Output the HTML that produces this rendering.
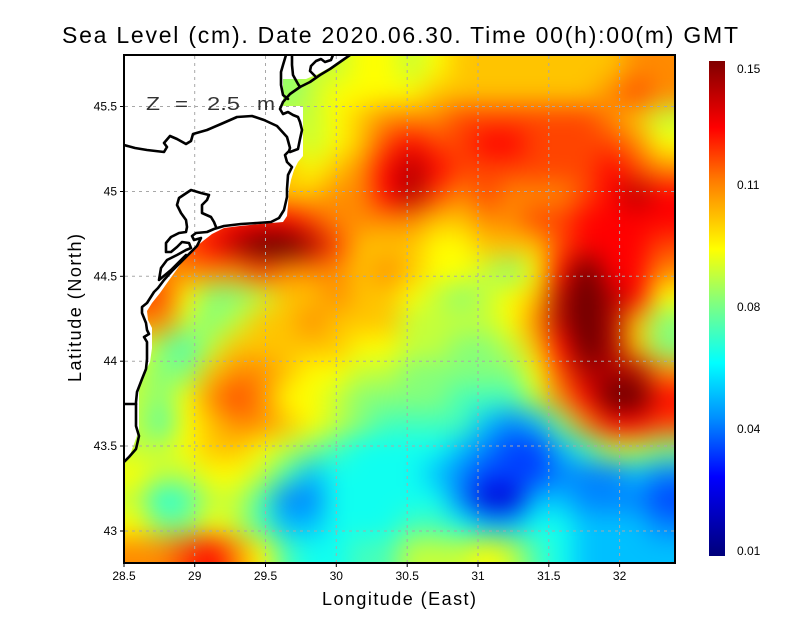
<!DOCTYPE html>
<html><head><meta charset="utf-8"><style>
html,body{margin:0;padding:0;background:#fff}
#wrap{position:relative;width:800px;height:618px;overflow:hidden;background:#fff}
#fw{position:absolute;left:124px;top:55px;width:551px;height:508px;overflow:hidden}
#fs{position:absolute;left:-124px;top:-55px;filter:blur(13px)}
#ov{position:absolute;left:0;top:0}
svg{display:block}
.a{fill:#00007f}.b{fill:#0000d8}.c{fill:#0040ff}.d{fill:#0084ff}.e{fill:#00c0ff}.f{fill:#10fff0}.g{fill:#45ffba}.h{fill:#85ff7a}.i{fill:#c4ff3a}.j{fill:#ffff00}.k{fill:#ffc400}.l{fill:#ff8a00}.m{fill:#ff4400}.n{fill:#ff0000}.o{fill:#b00000}.p{fill:#600000}
text{font-family:"Liberation Sans",Arial,sans-serif;fill:#000}
</style></head><body>
<div id="wrap">
<div id="fw">
<svg id="fs" xmlns="http://www.w3.org/2000/svg" width="800" height="618" viewBox="0 0 800 618">
<g transform="translate(0,15) scale(1,1.52)"><rect x="84" width="66" height="27" class="i"/><rect x="149" width="26" height="27" class="i"/><rect x="174" width="26" height="27" class="i"/><rect x="199" width="26" height="27" class="i"/><rect x="224" width="26" height="27" class="i"/><rect x="249" width="26" height="27" class="i"/><rect x="274" width="26" height="27" class="h"/><rect x="299" width="26" height="27" class="i"/><rect x="324" width="26" height="27" class="i"/><rect x="349" width="26" height="27" class="j"/><rect x="374" width="26" height="27" class="j"/><rect x="399" width="26" height="27" class="i"/><rect x="424" width="26" height="27" class="j"/><rect x="449" width="26" height="27" class="k"/><rect x="474" width="26" height="27" class="k"/><rect x="499" width="26" height="27" class="k"/><rect x="524" width="26" height="27" class="k"/><rect x="549" width="26" height="27" class="k"/><rect x="574" width="26" height="27" class="k"/><rect x="599" width="26" height="27" class="k"/><rect x="624" width="26" height="27" class="l"/><rect x="649" width="70" height="27" class="l"/></g>
<g transform="translate(0,55)"><rect x="84" width="66" height="27" class="i"/><rect x="149" width="26" height="27" class="i"/><rect x="174" width="26" height="27" class="i"/><rect x="199" width="26" height="27" class="i"/><rect x="224" width="26" height="27" class="i"/><rect x="249" width="26" height="27" class="i"/><rect x="274" width="26" height="27" class="h"/><rect x="299" width="26" height="27" class="i"/><rect x="324" width="26" height="27" class="i"/><rect x="349" width="26" height="27" class="j"/><rect x="374" width="26" height="27" class="j"/><rect x="399" width="26" height="27" class="i"/><rect x="424" width="26" height="27" class="j"/><rect x="449" width="26" height="27" class="k"/><rect x="474" width="26" height="27" class="k"/><rect x="499" width="26" height="27" class="k"/><rect x="524" width="26" height="27" class="k"/><rect x="549" width="26" height="27" class="k"/><rect x="574" width="26" height="27" class="k"/><rect x="599" width="26" height="27" class="k"/><rect x="624" width="26" height="27" class="l"/><rect x="649" width="70" height="27" class="l"/></g>
<g transform="translate(0,80.4)"><rect x="84" width="66" height="27" class="i"/><rect x="149" width="26" height="27" class="i"/><rect x="174" width="26" height="27" class="i"/><rect x="199" width="26" height="27" class="i"/><rect x="224" width="26" height="27" class="i"/><rect x="249" width="26" height="27" class="i"/><rect x="274" width="26" height="27" class="h"/><rect x="299" width="26" height="27" class="i"/><rect x="324" width="26" height="27" class="j"/><rect x="349" width="26" height="27" class="j"/><rect x="374" width="26" height="27" class="j"/><rect x="399" width="26" height="27" class="j"/><rect x="424" width="26" height="27" class="k"/><rect x="449" width="26" height="27" class="k"/><rect x="474" width="26" height="27" class="k"/><rect x="499" width="26" height="27" class="k"/><rect x="524" width="26" height="27" class="k"/><rect x="549" width="26" height="27" class="k"/><rect x="574" width="26" height="27" class="k"/><rect x="599" width="26" height="27" class="l"/><rect x="624" width="26" height="27" class="m"/><rect x="649" width="70" height="27" class="l"/></g>
<g transform="translate(0,105.8)"><rect x="84" width="66" height="27" class="i"/><rect x="149" width="26" height="27" class="i"/><rect x="174" width="26" height="27" class="i"/><rect x="199" width="26" height="27" class="i"/><rect x="224" width="26" height="27" class="i"/><rect x="249" width="26" height="27" class="i"/><rect x="274" width="26" height="27" class="i"/><rect x="299" width="26" height="27" class="i"/><rect x="324" width="26" height="27" class="j"/><rect x="349" width="26" height="27" class="k"/><rect x="374" width="26" height="27" class="l"/><rect x="399" width="26" height="27" class="l"/><rect x="424" width="26" height="27" class="l"/><rect x="449" width="26" height="27" class="m"/><rect x="474" width="26" height="27" class="m"/><rect x="499" width="26" height="27" class="m"/><rect x="524" width="26" height="27" class="m"/><rect x="549" width="26" height="27" class="m"/><rect x="574" width="26" height="27" class="m"/><rect x="599" width="26" height="27" class="l"/><rect x="624" width="26" height="27" class="k"/><rect x="649" width="70" height="27" class="i"/></g>
<g transform="translate(0,131.2)"><rect x="84" width="66" height="27" class="j"/><rect x="149" width="26" height="27" class="j"/><rect x="174" width="26" height="27" class="j"/><rect x="199" width="26" height="27" class="j"/><rect x="224" width="26" height="27" class="j"/><rect x="249" width="26" height="27" class="j"/><rect x="274" width="26" height="27" class="j"/><rect x="299" width="26" height="27" class="i"/><rect x="324" width="26" height="27" class="j"/><rect x="349" width="26" height="27" class="k"/><rect x="374" width="26" height="27" class="m"/><rect x="399" width="26" height="27" class="n"/><rect x="424" width="26" height="27" class="m"/><rect x="449" width="26" height="27" class="m"/><rect x="474" width="26" height="27" class="n"/><rect x="499" width="26" height="27" class="n"/><rect x="524" width="26" height="27" class="m"/><rect x="549" width="26" height="27" class="m"/><rect x="574" width="26" height="27" class="m"/><rect x="599" width="26" height="27" class="m"/><rect x="624" width="26" height="27" class="l"/><rect x="649" width="70" height="27" class="j"/></g>
<g transform="translate(0,156.6)"><rect x="84" width="66" height="27" class="k"/><rect x="149" width="26" height="27" class="k"/><rect x="174" width="26" height="27" class="k"/><rect x="199" width="26" height="27" class="k"/><rect x="224" width="26" height="27" class="k"/><rect x="249" width="26" height="27" class="k"/><rect x="274" width="26" height="27" class="k"/><rect x="299" width="26" height="27" class="j"/><rect x="324" width="26" height="27" class="k"/><rect x="349" width="26" height="27" class="l"/><rect x="374" width="26" height="27" class="n"/><rect x="399" width="26" height="27" class="o"/><rect x="424" width="26" height="27" class="n"/><rect x="449" width="26" height="27" class="m"/><rect x="474" width="26" height="27" class="m"/><rect x="499" width="26" height="27" class="m"/><rect x="524" width="26" height="27" class="m"/><rect x="549" width="26" height="27" class="m"/><rect x="574" width="26" height="27" class="m"/><rect x="599" width="26" height="27" class="n"/><rect x="624" width="26" height="27" class="m"/><rect x="649" width="70" height="27" class="l"/></g>
<g transform="translate(0,182)"><rect x="84" width="66" height="27" class="k"/><rect x="149" width="26" height="27" class="k"/><rect x="174" width="26" height="27" class="k"/><rect x="199" width="26" height="27" class="k"/><rect x="224" width="26" height="27" class="k"/><rect x="249" width="26" height="27" class="k"/><rect x="274" width="26" height="27" class="k"/><rect x="299" width="26" height="27" class="k"/><rect x="324" width="26" height="27" class="l"/><rect x="349" width="26" height="27" class="l"/><rect x="374" width="26" height="27" class="n"/><rect x="399" width="26" height="27" class="o"/><rect x="424" width="26" height="27" class="m"/><rect x="449" width="26" height="27" class="l"/><rect x="474" width="26" height="27" class="m"/><rect x="499" width="26" height="27" class="l"/><rect x="524" width="26" height="27" class="l"/><rect x="549" width="26" height="27" class="l"/><rect x="574" width="26" height="27" class="m"/><rect x="599" width="26" height="27" class="n"/><rect x="624" width="26" height="27" class="o"/><rect x="649" width="70" height="27" class="n"/></g>
<g transform="translate(0,207.4)"><rect x="84" width="66" height="27" class="l"/><rect x="149" width="26" height="27" class="l"/><rect x="174" width="26" height="27" class="l"/><rect x="199" width="26" height="27" class="m"/><rect x="224" width="26" height="27" class="n"/><rect x="249" width="26" height="27" class="n"/><rect x="274" width="26" height="27" class="n"/><rect x="299" width="26" height="27" class="m"/><rect x="324" width="26" height="27" class="l"/><rect x="349" width="26" height="27" class="l"/><rect x="374" width="26" height="27" class="l"/><rect x="399" width="26" height="27" class="l"/><rect x="424" width="26" height="27" class="k"/><rect x="449" width="26" height="27" class="k"/><rect x="474" width="26" height="27" class="l"/><rect x="499" width="26" height="27" class="l"/><rect x="524" width="26" height="27" class="m"/><rect x="549" width="26" height="27" class="m"/><rect x="574" width="26" height="27" class="n"/><rect x="599" width="26" height="27" class="n"/><rect x="624" width="26" height="27" class="n"/><rect x="649" width="70" height="27" class="n"/></g>
<g transform="translate(0,232.8)"><rect x="84" width="66" height="27" class="l"/><rect x="149" width="26" height="27" class="l"/><rect x="174" width="26" height="27" class="m"/><rect x="199" width="26" height="27" class="n"/><rect x="224" width="26" height="27" class="o"/><rect x="249" width="26" height="27" class="p"/><rect x="274" width="26" height="27" class="p"/><rect x="299" width="26" height="27" class="o"/><rect x="324" width="26" height="27" class="m"/><rect x="349" width="26" height="27" class="k"/><rect x="374" width="26" height="27" class="k"/><rect x="399" width="26" height="27" class="k"/><rect x="424" width="26" height="27" class="j"/><rect x="449" width="26" height="27" class="j"/><rect x="474" width="26" height="27" class="k"/><rect x="499" width="26" height="27" class="k"/><rect x="524" width="26" height="27" class="k"/><rect x="549" width="26" height="27" class="m"/><rect x="574" width="26" height="27" class="n"/><rect x="599" width="26" height="27" class="n"/><rect x="624" width="26" height="27" class="n"/><rect x="649" width="70" height="27" class="m"/></g>
<g transform="translate(0,258.2)"><rect x="84" width="66" height="27" class="l"/><rect x="149" width="26" height="27" class="l"/><rect x="174" width="26" height="27" class="l"/><rect x="199" width="26" height="27" class="l"/><rect x="224" width="26" height="27" class="l"/><rect x="249" width="26" height="27" class="m"/><rect x="274" width="26" height="27" class="l"/><rect x="299" width="26" height="27" class="l"/><rect x="324" width="26" height="27" class="l"/><rect x="349" width="26" height="27" class="k"/><rect x="374" width="26" height="27" class="l"/><rect x="399" width="26" height="27" class="k"/><rect x="424" width="26" height="27" class="j"/><rect x="449" width="26" height="27" class="j"/><rect x="474" width="26" height="27" class="i"/><rect x="499" width="26" height="27" class="h"/><rect x="524" width="26" height="27" class="j"/><rect x="549" width="26" height="27" class="n"/><rect x="574" width="26" height="27" class="p"/><rect x="599" width="26" height="27" class="n"/><rect x="624" width="26" height="27" class="n"/><rect x="649" width="70" height="27" class="l"/></g>
<g transform="translate(0,283.6)"><rect x="84" width="66" height="27" class="m"/><rect x="149" width="26" height="27" class="m"/><rect x="174" width="26" height="27" class="j"/><rect x="199" width="26" height="27" class="h"/><rect x="224" width="26" height="27" class="h"/><rect x="249" width="26" height="27" class="i"/><rect x="274" width="26" height="27" class="k"/><rect x="299" width="26" height="27" class="k"/><rect x="324" width="26" height="27" class="l"/><rect x="349" width="26" height="27" class="k"/><rect x="374" width="26" height="27" class="k"/><rect x="399" width="26" height="27" class="j"/><rect x="424" width="26" height="27" class="i"/><rect x="449" width="26" height="27" class="h"/><rect x="474" width="26" height="27" class="i"/><rect x="499" width="26" height="27" class="j"/><rect x="524" width="26" height="27" class="k"/><rect x="549" width="26" height="27" class="o"/><rect x="574" width="26" height="27" class="p"/><rect x="599" width="26" height="27" class="o"/><rect x="624" width="26" height="27" class="n"/><rect x="649" width="70" height="27" class="j"/></g>
<g transform="translate(0,309)"><rect x="84" width="66" height="27" class="l"/><rect x="149" width="26" height="27" class="l"/><rect x="174" width="26" height="27" class="i"/><rect x="199" width="26" height="27" class="h"/><rect x="224" width="26" height="27" class="i"/><rect x="249" width="26" height="27" class="k"/><rect x="274" width="26" height="27" class="k"/><rect x="299" width="26" height="27" class="l"/><rect x="324" width="26" height="27" class="k"/><rect x="349" width="26" height="27" class="k"/><rect x="374" width="26" height="27" class="k"/><rect x="399" width="26" height="27" class="i"/><rect x="424" width="26" height="27" class="i"/><rect x="449" width="26" height="27" class="i"/><rect x="474" width="26" height="27" class="i"/><rect x="499" width="26" height="27" class="j"/><rect x="524" width="26" height="27" class="l"/><rect x="549" width="26" height="27" class="o"/><rect x="574" width="26" height="27" class="p"/><rect x="599" width="26" height="27" class="o"/><rect x="624" width="26" height="27" class="k"/><rect x="649" width="70" height="27" class="h"/></g>
<g transform="translate(0,334.4)"><rect x="84" width="66" height="27" class="j"/><rect x="149" width="26" height="27" class="h"/><rect x="174" width="26" height="27" class="g"/><rect x="199" width="26" height="27" class="i"/><rect x="224" width="26" height="27" class="k"/><rect x="249" width="26" height="27" class="k"/><rect x="274" width="26" height="27" class="k"/><rect x="299" width="26" height="27" class="k"/><rect x="324" width="26" height="27" class="k"/><rect x="349" width="26" height="27" class="j"/><rect x="374" width="26" height="27" class="j"/><rect x="399" width="26" height="27" class="i"/><rect x="424" width="26" height="27" class="i"/><rect x="449" width="26" height="27" class="h"/><rect x="474" width="26" height="27" class="h"/><rect x="499" width="26" height="27" class="i"/><rect x="524" width="26" height="27" class="k"/><rect x="549" width="26" height="27" class="n"/><rect x="574" width="26" height="27" class="p"/><rect x="599" width="26" height="27" class="o"/><rect x="624" width="26" height="27" class="k"/><rect x="649" width="70" height="27" class="h"/></g>
<g transform="translate(0,359.8)"><rect x="84" width="66" height="27" class="i"/><rect x="149" width="26" height="27" class="h"/><rect x="174" width="26" height="27" class="h"/><rect x="199" width="26" height="27" class="k"/><rect x="224" width="26" height="27" class="l"/><rect x="249" width="26" height="27" class="l"/><rect x="274" width="26" height="27" class="k"/><rect x="299" width="26" height="27" class="j"/><rect x="324" width="26" height="27" class="j"/><rect x="349" width="26" height="27" class="i"/><rect x="374" width="26" height="27" class="i"/><rect x="399" width="26" height="27" class="h"/><rect x="424" width="26" height="27" class="h"/><rect x="449" width="26" height="27" class="h"/><rect x="474" width="26" height="27" class="h"/><rect x="499" width="26" height="27" class="h"/><rect x="524" width="26" height="27" class="j"/><rect x="549" width="26" height="27" class="m"/><rect x="574" width="26" height="27" class="o"/><rect x="599" width="26" height="27" class="o"/><rect x="624" width="26" height="27" class="o"/><rect x="649" width="70" height="27" class="l"/></g>
<g transform="translate(0,385.2)"><rect x="84" width="66" height="27" class="i"/><rect x="149" width="26" height="27" class="h"/><rect x="174" width="26" height="27" class="j"/><rect x="199" width="26" height="27" class="l"/><rect x="224" width="26" height="27" class="m"/><rect x="249" width="26" height="27" class="l"/><rect x="274" width="26" height="27" class="j"/><rect x="299" width="26" height="27" class="j"/><rect x="324" width="26" height="27" class="i"/><rect x="349" width="26" height="27" class="h"/><rect x="374" width="26" height="27" class="h"/><rect x="399" width="26" height="27" class="h"/><rect x="424" width="26" height="27" class="h"/><rect x="449" width="26" height="27" class="g"/><rect x="474" width="26" height="27" class="g"/><rect x="499" width="26" height="27" class="g"/><rect x="524" width="26" height="27" class="i"/><rect x="549" width="26" height="27" class="l"/><rect x="574" width="26" height="27" class="n"/><rect x="599" width="26" height="27" class="p"/><rect x="624" width="26" height="27" class="p"/><rect x="649" width="70" height="27" class="n"/></g>
<g transform="translate(0,410.6)"><rect x="84" width="66" height="27" class="i"/><rect x="149" width="26" height="27" class="g"/><rect x="174" width="26" height="27" class="j"/><rect x="199" width="26" height="27" class="k"/><rect x="224" width="26" height="27" class="l"/><rect x="249" width="26" height="27" class="l"/><rect x="274" width="26" height="27" class="k"/><rect x="299" width="26" height="27" class="j"/><rect x="324" width="26" height="27" class="i"/><rect x="349" width="26" height="27" class="h"/><rect x="374" width="26" height="27" class="g"/><rect x="399" width="26" height="27" class="g"/><rect x="424" width="26" height="27" class="g"/><rect x="449" width="26" height="27" class="g"/><rect x="474" width="26" height="27" class="e"/><rect x="499" width="26" height="27" class="d"/><rect x="524" width="26" height="27" class="e"/><rect x="549" width="26" height="27" class="h"/><rect x="574" width="26" height="27" class="l"/><rect x="599" width="26" height="27" class="n"/><rect x="624" width="26" height="27" class="n"/><rect x="649" width="70" height="27" class="m"/></g>
<g transform="translate(0,436)"><rect x="84" width="66" height="27" class="i"/><rect x="149" width="26" height="27" class="i"/><rect x="174" width="26" height="27" class="j"/><rect x="199" width="26" height="27" class="k"/><rect x="224" width="26" height="27" class="k"/><rect x="249" width="26" height="27" class="j"/><rect x="274" width="26" height="27" class="i"/><rect x="299" width="26" height="27" class="h"/><rect x="324" width="26" height="27" class="g"/><rect x="349" width="26" height="27" class="f"/><rect x="374" width="26" height="27" class="f"/><rect x="399" width="26" height="27" class="f"/><rect x="424" width="26" height="27" class="f"/><rect x="449" width="26" height="27" class="e"/><rect x="474" width="26" height="27" class="d"/><rect x="499" width="26" height="27" class="c"/><rect x="524" width="26" height="27" class="c"/><rect x="549" width="26" height="27" class="e"/><rect x="574" width="26" height="27" class="g"/><rect x="599" width="26" height="27" class="i"/><rect x="624" width="26" height="27" class="i"/><rect x="649" width="70" height="27" class="h"/></g>
<g transform="translate(0,461.4)"><rect x="84" width="66" height="27" class="j"/><rect x="149" width="26" height="27" class="i"/><rect x="174" width="26" height="27" class="i"/><rect x="199" width="26" height="27" class="j"/><rect x="224" width="26" height="27" class="j"/><rect x="249" width="26" height="27" class="i"/><rect x="274" width="26" height="27" class="g"/><rect x="299" width="26" height="27" class="e"/><rect x="324" width="26" height="27" class="f"/><rect x="349" width="26" height="27" class="f"/><rect x="374" width="26" height="27" class="f"/><rect x="399" width="26" height="27" class="f"/><rect x="424" width="26" height="27" class="e"/><rect x="449" width="26" height="27" class="d"/><rect x="474" width="26" height="27" class="c"/><rect x="499" width="26" height="27" class="c"/><rect x="524" width="26" height="27" class="c"/><rect x="549" width="26" height="27" class="d"/><rect x="574" width="26" height="27" class="d"/><rect x="599" width="26" height="27" class="d"/><rect x="624" width="26" height="27" class="e"/><rect x="649" width="70" height="27" class="d"/></g>
<g transform="translate(0,486.8)"><rect x="84" width="66" height="27" class="i"/><rect x="149" width="26" height="27" class="f"/><rect x="174" width="26" height="27" class="g"/><rect x="199" width="26" height="27" class="i"/><rect x="224" width="26" height="27" class="i"/><rect x="249" width="26" height="27" class="g"/><rect x="274" width="26" height="27" class="d"/><rect x="299" width="26" height="27" class="d"/><rect x="324" width="26" height="27" class="f"/><rect x="349" width="26" height="27" class="f"/><rect x="374" width="26" height="27" class="f"/><rect x="399" width="26" height="27" class="f"/><rect x="424" width="26" height="27" class="f"/><rect x="449" width="26" height="27" class="d"/><rect x="474" width="26" height="27" class="b"/><rect x="499" width="26" height="27" class="b"/><rect x="524" width="26" height="27" class="e"/><rect x="549" width="26" height="27" class="e"/><rect x="574" width="26" height="27" class="d"/><rect x="599" width="26" height="27" class="d"/><rect x="624" width="26" height="27" class="d"/><rect x="649" width="70" height="27" class="c"/></g>
<g transform="translate(0,512.2)"><rect x="84" width="66" height="27" class="j"/><rect x="149" width="26" height="27" class="h"/><rect x="174" width="26" height="27" class="h"/><rect x="199" width="26" height="27" class="j"/><rect x="224" width="26" height="27" class="i"/><rect x="249" width="26" height="27" class="g"/><rect x="274" width="26" height="27" class="e"/><rect x="299" width="26" height="27" class="e"/><rect x="324" width="26" height="27" class="f"/><rect x="349" width="26" height="27" class="f"/><rect x="374" width="26" height="27" class="f"/><rect x="399" width="26" height="27" class="g"/><rect x="424" width="26" height="27" class="g"/><rect x="449" width="26" height="27" class="f"/><rect x="474" width="26" height="27" class="e"/><rect x="499" width="26" height="27" class="e"/><rect x="524" width="26" height="27" class="f"/><rect x="549" width="26" height="27" class="f"/><rect x="574" width="26" height="27" class="e"/><rect x="599" width="26" height="27" class="e"/><rect x="624" width="26" height="27" class="e"/><rect x="649" width="70" height="27" class="d"/></g>
<g transform="translate(0,537.6)"><rect x="84" width="66" height="27" class="l"/><rect x="149" width="26" height="27" class="l"/><rect x="174" width="26" height="27" class="m"/><rect x="199" width="26" height="27" class="n"/><rect x="224" width="26" height="27" class="l"/><rect x="249" width="26" height="27" class="j"/><rect x="274" width="26" height="27" class="g"/><rect x="299" width="26" height="27" class="f"/><rect x="324" width="26" height="27" class="f"/><rect x="349" width="26" height="27" class="g"/><rect x="374" width="26" height="27" class="g"/><rect x="399" width="26" height="27" class="i"/><rect x="424" width="26" height="27" class="i"/><rect x="449" width="26" height="27" class="i"/><rect x="474" width="26" height="27" class="j"/><rect x="499" width="26" height="27" class="i"/><rect x="524" width="26" height="27" class="g"/><rect x="549" width="26" height="27" class="f"/><rect x="574" width="26" height="27" class="e"/><rect x="599" width="26" height="27" class="e"/><rect x="624" width="26" height="27" class="e"/><rect x="649" width="70" height="27" class="e"/></g>
<g transform="translate(0,563) scale(1,1.5)"><rect x="84" width="66" height="27" class="l"/><rect x="149" width="26" height="27" class="l"/><rect x="174" width="26" height="27" class="m"/><rect x="199" width="26" height="27" class="n"/><rect x="224" width="26" height="27" class="l"/><rect x="249" width="26" height="27" class="j"/><rect x="274" width="26" height="27" class="g"/><rect x="299" width="26" height="27" class="f"/><rect x="324" width="26" height="27" class="f"/><rect x="349" width="26" height="27" class="g"/><rect x="374" width="26" height="27" class="g"/><rect x="399" width="26" height="27" class="i"/><rect x="424" width="26" height="27" class="i"/><rect x="449" width="26" height="27" class="i"/><rect x="474" width="26" height="27" class="j"/><rect x="499" width="26" height="27" class="i"/><rect x="524" width="26" height="27" class="g"/><rect x="549" width="26" height="27" class="f"/><rect x="574" width="26" height="27" class="e"/><rect x="599" width="26" height="27" class="e"/><rect x="624" width="26" height="27" class="e"/><rect x="649" width="70" height="27" class="e"/></g>
</svg>
</div>
<svg id="ov" xmlns="http://www.w3.org/2000/svg" width="800" height="618" viewBox="0 0 800 618">
<defs>
<clipPath id="cp"><rect x="124" y="55" width="551" height="508"/></clipPath>
<linearGradient id="cb" x1="0" y1="0" x2="0" y2="1">
<stop offset="0" stop-color="#800000"/><stop offset="0.135" stop-color="#ff0000"/><stop offset="0.24" stop-color="#ff7a00"/><stop offset="0.38" stop-color="#ffff00"/><stop offset="0.49" stop-color="#80ff80"/><stop offset="0.61" stop-color="#00ffff"/><stop offset="0.72" stop-color="#0090ff"/><stop offset="0.84" stop-color="#0000ff"/><stop offset="1" stop-color="#00007a"/>
</linearGradient>
</defs>
<g clip-path="url(#cp)">
<polygon fill="#fff" points="120,50 354,50 338,63 318,74 306,79 283,79 283,106 303,106 303,156 298,162 294,170 291,180 289,190 288,205 287,216 283,222 260,224 240,226 224,228 212,234 203,241 196,247 189,254 182,262 175,272 167,283 160,293 152,303 147,311 148,320 152,328 152,348 150,362 144,374 139,386 139,430 134,444 130,455 124,463 120,463"/>
</g>
<g stroke="#a8a8a8" stroke-width="1" stroke-dasharray="3 4" fill="none">
<line x1="194.7" y1="56" x2="194.7" y2="562"/><line x1="265.5" y1="56" x2="265.5" y2="562"/><line x1="336.3" y1="56" x2="336.3" y2="562"/><line x1="407.2" y1="56" x2="407.2" y2="562"/><line x1="478" y1="56" x2="478" y2="562"/><line x1="548.8" y1="56" x2="548.8" y2="562"/><line x1="619.6" y1="56" x2="619.6" y2="562"/>
<line x1="125" y1="106.5" x2="674" y2="106.5"/><line x1="125" y1="191.5" x2="674" y2="191.5"/><line x1="125" y1="276.3" x2="674" y2="276.3"/><line x1="125" y1="361.2" x2="674" y2="361.2"/><line x1="125" y1="446" x2="674" y2="446"/><line x1="125" y1="531" x2="674" y2="531"/>
</g>
<g clip-path="url(#cp)" fill="none" stroke="#000" stroke-width="2.6" stroke-linejoin="round" stroke-linecap="round">
<polyline points="124,145 135,148 147,150 164,152 167,147 164,143 170,136 177,139 186,144 191,141 193,134 207,130 221,124 237,117 252,116 264,120 277,126 287,137 290,148 289,151 285,155 287,162 292,167 288,175 287,189 287,197 284,210 279,218 271,222 257,223 241,224 224,226 214,229 207,232 196,233 192,236 194,240 201,238 197,246 188,255 181,262 172,271 164,280 158,288 154,292 147,303 142,307 142,313 146,323 147,330 149,334 144,337 147,342 147,359 146,369 142,379 137,392 136,402 136,409 136,426 139,436 136,449 129,457 124,462"/>
<polyline points="136,404 124,404"/>
<polyline points="216,227 214,222 211,217 202,213 202,205 207,200 209,195 201,193 191,190 179,198 177,205 181,213 186,220 187,227 186,232 179,233 171,237 166,243 166,252 171,252 177,247 182,242 189,243 191,248 186,250 177,255 167,260 161,268 159,280 171,270 181,260 186,255"/>
<polyline points="286,55 283,65 281,72 281,85 283,95 288,99"/>
<polyline points="292,55 292,65 293,75 298,84 300,87"/>
<polyline points="350,55 340,62 330,69 320,75 310,82 300,87 290,94 283,102 280,109 283,114 288,112 293,115 298,117 300,122 302,130 300,139 298,149 290,152"/>
<polyline points="333,55 331,60 325,62 321,59 316,61 311,66 310,71 315,76"/>
</g>
<g font-size="18">
<text x="146" y="110" textLength="14" lengthAdjust="spacingAndGlyphs" style="fill:#333">Z</text>
<text x="175" y="110" textLength="13" lengthAdjust="spacingAndGlyphs" style="fill:#333">=</text>
<text x="207" y="110" textLength="33" lengthAdjust="spacingAndGlyphs" style="fill:#333">2.5</text>
<text x="257" y="110" textLength="18" lengthAdjust="spacingAndGlyphs" style="fill:#333">m</text>
</g>
<rect x="124" y="55" width="551" height="508" fill="none" stroke="#000" stroke-width="2"/>
<g stroke="#000" stroke-width="1">
<line x1="120" y1="106.5" x2="124" y2="106.5"/><line x1="120" y1="191.5" x2="124" y2="191.5"/><line x1="120" y1="276.3" x2="124" y2="276.3"/><line x1="120" y1="361.2" x2="124" y2="361.2"/><line x1="120" y1="446" x2="124" y2="446"/><line x1="120" y1="531" x2="124" y2="531"/>
<line x1="124" y1="563" x2="124" y2="567"/><line x1="194.7" y1="563" x2="194.7" y2="567"/><line x1="265.5" y1="563" x2="265.5" y2="567"/><line x1="336.3" y1="563" x2="336.3" y2="567"/><line x1="407.2" y1="563" x2="407.2" y2="567"/><line x1="478" y1="563" x2="478" y2="567"/><line x1="548.8" y1="563" x2="548.8" y2="567"/><line x1="619.6" y1="563" x2="619.6" y2="567"/>
</g>
<g font-size="12" text-anchor="end">
<text x="117" y="110.5">45.5</text><text x="117" y="195.5">45</text><text x="117" y="280.3">44.5</text><text x="117" y="365.2">44</text><text x="117" y="450">43.5</text><text x="117" y="535">43</text>
</g>
<g font-size="12" text-anchor="middle">
<text x="124" y="580">28.5</text><text x="194.7" y="580">29</text><text x="265.5" y="580">29.5</text><text x="336.3" y="580">30</text><text x="407.2" y="580">30.5</text><text x="478" y="580">31</text><text x="548.8" y="580">31.5</text><text x="619.6" y="580">32</text>
</g>
<rect x="709" y="61" width="16" height="495" fill="url(#cb)"/>
<g font-size="12">
<text x="737" y="73">0.15</text><text x="737" y="189">0.11</text><text x="737" y="311">0.08</text><text x="737" y="433">0.04</text><text x="737" y="555">0.01</text>
</g>
<text x="62" y="43" font-size="23" textLength="676" lengthAdjust="spacing">Sea Level (cm). Date 2020.06.30. Time 00(h):00(m) GMT</text>
<text x="399" y="605" font-size="18" text-anchor="middle" textLength="154" lengthAdjust="spacing">Longitude (East)</text>
<text transform="translate(81,308) rotate(-90)" font-size="18" text-anchor="middle" textLength="148" lengthAdjust="spacing">Latitude (North)</text>
</svg>
</div>
</body></html>
